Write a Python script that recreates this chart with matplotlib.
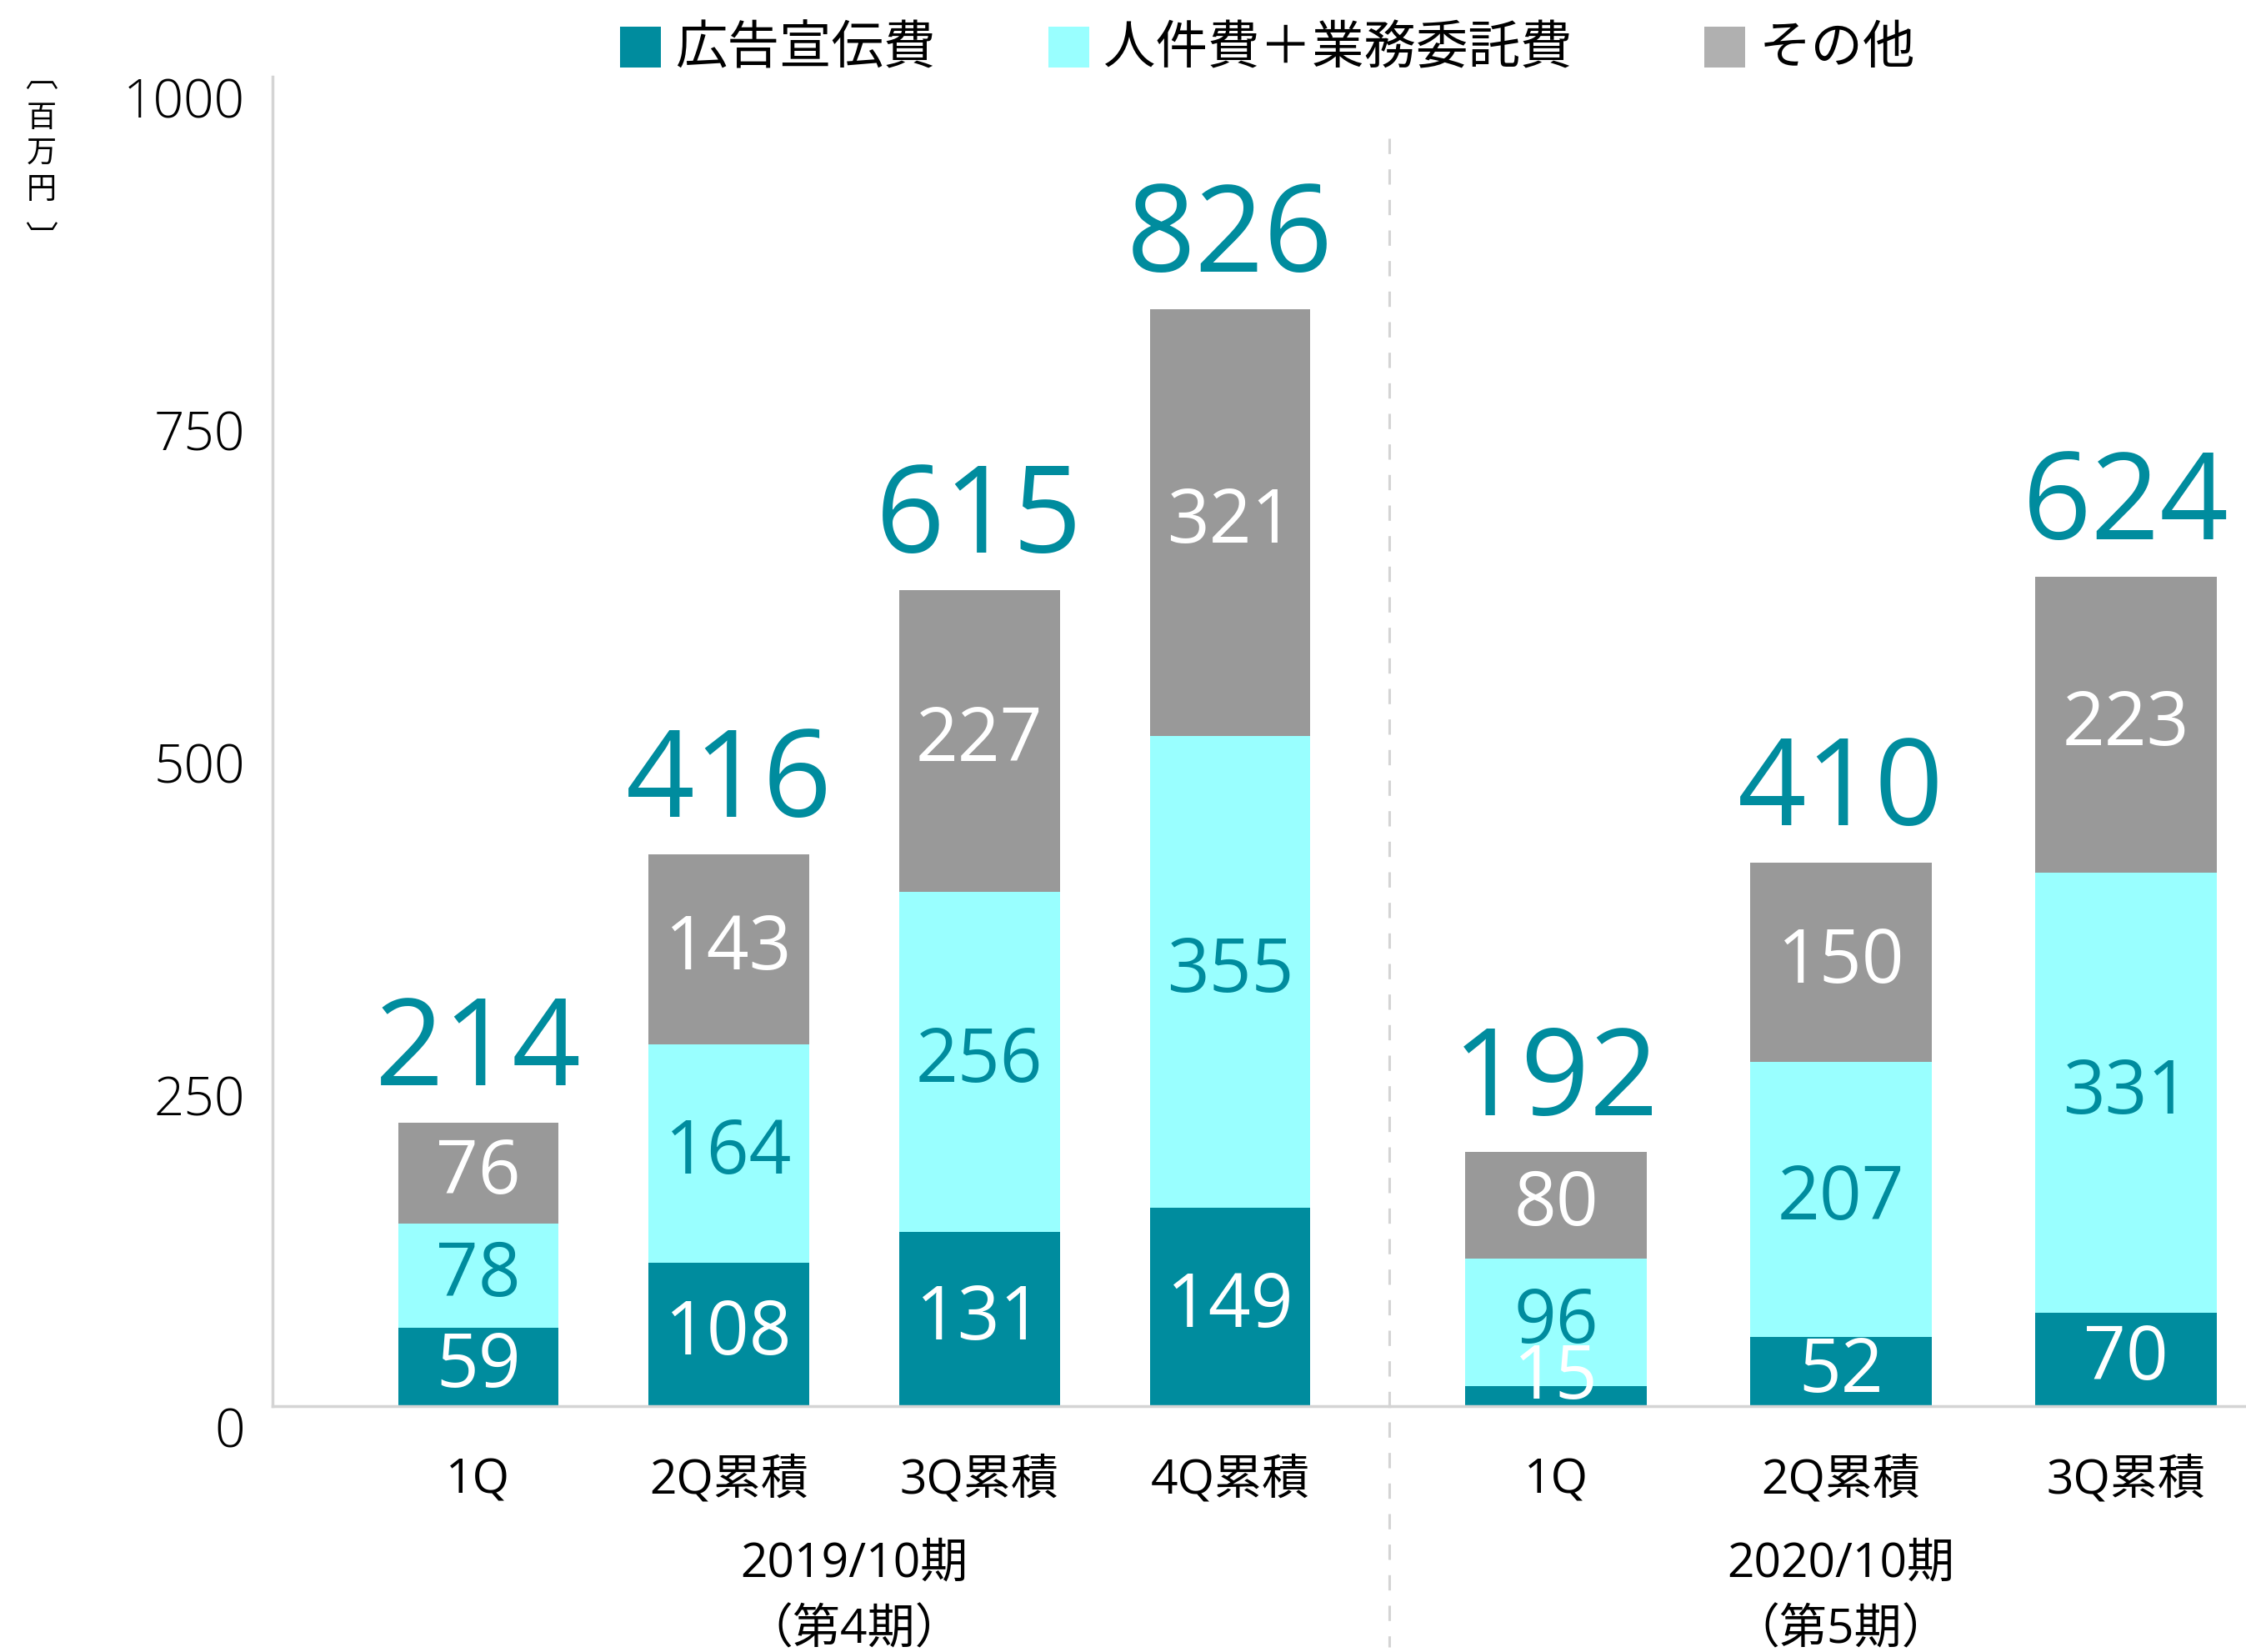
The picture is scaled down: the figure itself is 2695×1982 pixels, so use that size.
import matplotlib
matplotlib.use('Agg')
import matplotlib.pyplot as plt
from matplotlib import transforms
from matplotlib.patches import Rectangle
from matplotlib.lines import Line2D

# ---------------- data ----------------
period_labels = ['2019/10期\n（第4期）', '2020/10期\n（第5期）']
cats_2019 = ['1Q', '2Q累積', '3Q累積', '4Q累積']
cats_2020 = ['1Q', '2Q累積', '3Q累積']
series_names = ['広告宣伝費', '人件費＋業務委託費', 'その他']

ad_2019 = [59, 108, 131, 149]
staff_2019 = [78, 164, 256, 355]
other_2019 = [76, 143, 227, 321]
total_2019 = [214, 416, 615, 826]

ad_2020 = [15, 52, 70]
staff_2020 = [96, 207, 331]
other_2020 = [80, 150, 223]
total_2020 = [192, 410, 624]

yticks = [0, 250, 500, 750, 1000]

# ---------------- style ----------------
TEAL = '#008C9E'
CYAN = '#99FFFF'
GRAY = '#999999'
LEG_GRAY = '#B0B0B0'
AXIS_GRAY = '#D4D4D4'
NUM_FONT = ['Open Sans', 'Noto Sans CJK JP', 'DejaVu Sans']
JP_FONT = ['Noto Sans CJK JP', 'DejaVu Sans']
plt.rcParams['font.family'] = JP_FONT

W, H = 2695, 1983
fig = plt.figure(figsize=(W / 100, H / 100), dpi=100)

def fx(px):
    return px / W

def fy(py):
    return 1 - py / H

y0_px, y1000_px = 1688, 93
sep_px = 1667
ax1 = fig.add_axes([fx(327), fy(y0_px), fx(sep_px) - fx(327), fy(y1000_px) - fy(y0_px)])
ax2 = fig.add_axes([fx(sep_px), fy(y0_px), 1 - fx(sep_px), fy(y1000_px) - fy(y0_px)])

groups = [
    (ax1, cats_2019, ad_2019, staff_2019, other_2019, total_2019, (-0.821, 3.635)),
    (ax2, cats_2020, ad_2020, staff_2020, other_2020, total_2020, (-0.585, 2.421)),
]

seg_colors = [TEAL, CYAN, GRAY]
seg_text = ['white', TEAL, 'white']

for gi, (ax, cats, ad, staff, other, total, xl) in enumerate(groups):
    xs = list(range(len(cats)))
    bottoms = [0] * len(cats)
    for si, vals in enumerate([ad, staff, other]):
        ax.bar(xs, vals, width=0.64, bottom=bottoms, color=seg_colors[si],
               linewidth=0, zorder=2)
        for x, b, v in zip(xs, bottoms, vals):
            yc = max(b + v / 2, 21)
            ax.text(x, yc, str(v), ha='center', va='center', color=seg_text[si],
                    fontsize=64, family=NUM_FONT, zorder=3)
        bottoms = [b + v for b, v in zip(bottoms, vals)]
    for x, top, t in zip(xs, bottoms, total):
        ax.annotate(str(t), (x, top), xytext=(0, 33), textcoords='offset points',
                    ha='center', va='baseline', color=TEAL, fontsize=104,
                    family=NUM_FONT, fontweight='normal')
    ax.set_xlim(*xl)
    ax.set_ylim(0, 1000)
    ax.set_xticks([])
    for s in ['top', 'right']:
        ax.spines[s].set_visible(False)
    ax.spines['bottom'].set_color(AXIS_GRAY)
    ax.spines['bottom'].set_linewidth(2.5)
    ax.patch.set_alpha(0)
    # category labels
    tr = transforms.blended_transform_factory(ax.transData, fig.transFigure)
    for x, c in zip(xs, cats):
        ax.text(x, fy(1777), c, transform=tr, ha='center', va='center',
                fontsize=41, family=NUM_FONT, color='black')
    mid = (xs[0] + xs[-1]) / 2
    line1, line2 = period_labels[gi].split('\n')
    ax.text(mid, fy(1877), line1, transform=tr, ha='center', va='center',
            fontsize=41, family=NUM_FONT, color='black')
    ax.text(mid, fy(1957), line2, transform=tr, ha='center', va='center',
            fontsize=41, family=NUM_FONT, color='black')

ax1.spines['left'].set_color(AXIS_GRAY)
ax1.spines['left'].set_linewidth(2.5)
ax1.set_yticks(yticks)
ax1.set_yticklabels([str(v) for v in yticks], family=NUM_FONT, fontsize=46,
                    fontweight='light')
for lbl in ax1.get_yticklabels():
    lbl.set_va('top')
ax1.tick_params(axis='y', length=0, pad=24)
ax2.spines['left'].set_visible(False)
ax2.set_yticks([])

# dashed separator
fig.add_artist(Line2D([fx(sep_px), fx(sep_px)], [fy(167), fy(1977)],
                      color=AXIS_GRAY, lw=2.2, linestyle=(0, (6, 6))))

# legend (manual)
leg_items = [(744, TEAL), (1258, CYAN), (2045, LEG_GRAY)]
for (xp, col), name in zip(leg_items, series_names):
    fig.add_artist(Rectangle((fx(xp), fy(82)), fx(49), fy(33) - fy(82),
                             transform=fig.transFigure, color=col, lw=0))
    fig.text(fx(xp + 66), fy(58), name, ha='left', va='center', fontsize=45,
             family=JP_FONT, color='black')

# unit label (vertical)
fig.text(fx(50), fy(93), '︹', ha='center', va='center',
         fontsize=28, family=JP_FONT)
fig.text(fx(50), fy(185), '百\n万\n円', ha='center', va='center',
         fontsize=26, family=JP_FONT, linespacing=1.25)
fig.text(fx(50), fy(288), '︺', ha='center', va='center',
         fontsize=28, family=JP_FONT)

fig.savefig('out.png', dpi=100)
